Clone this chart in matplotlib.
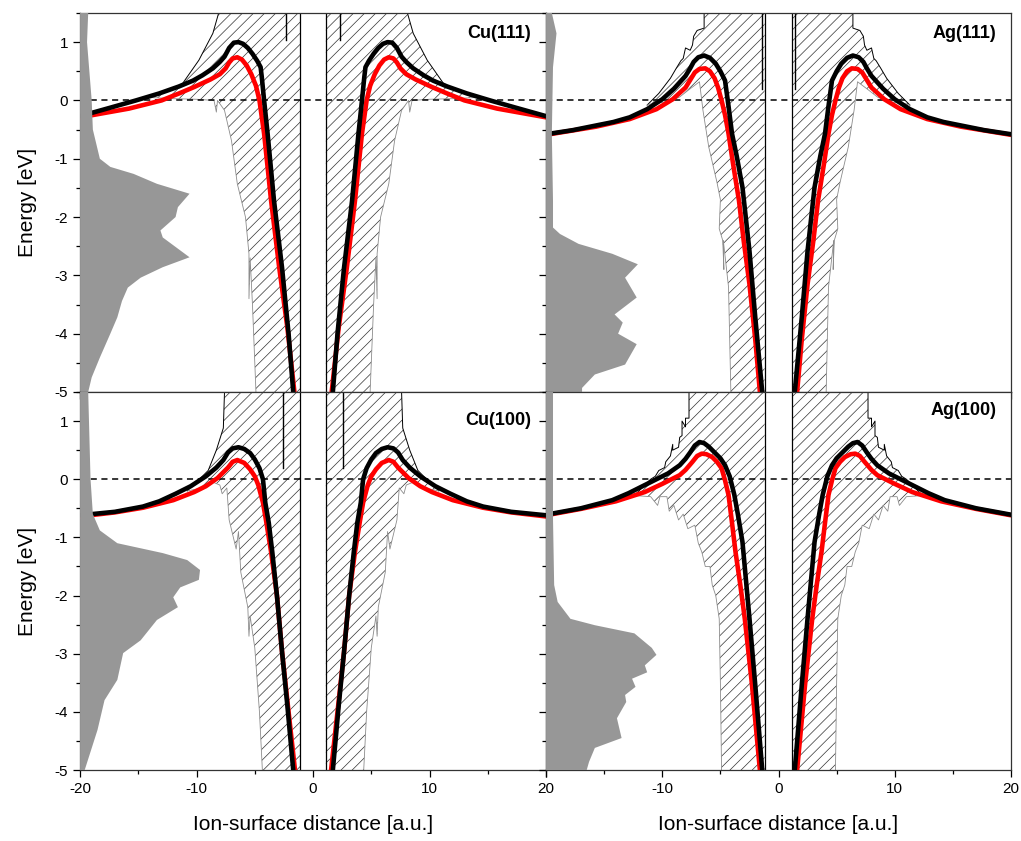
import numpy as np
import matplotlib
matplotlib.use("Agg")
import matplotlib.pyplot as plt
from matplotlib.ticker import MultipleLocator

plt.rcParams['font.family'] = ['Liberation Sans', 'DejaVu Sans']
plt.rcParams['axes.unicode_minus'] = False
plt.rcParams['hatch.linewidth'] = 0.5
plt.rcParams['axes.linewidth'] = 0.9

# ---- data: half curves given as (distance from surface, energy); mirrored to the left side ----
# Cu(111)
cu111_black_d = [1.7, 2.1, 2.66, 3.35, 3.9, 4.2, 4.4, 4.5, 4.8, 5.2, 5.6, 6.0, 6.4, 6.8, 7.2, 7.6, 8.0,
                 8.6, 9.5, 10.3, 11.5, 13.2, 15.2, 17.5, 20.0]
cu111_black_e = [-5.0, -4.0, -2.87, -1.72, -0.57, 0.0, 0.4, 0.57, 0.68, 0.8, 0.9, 0.97, 1.0, 0.99, 0.9, 0.75, 0.66,
                 0.55, 0.43, 0.34, 0.24, 0.12, 0.0, -0.13, -0.27]
cu111_red_d = [1.6, 2.2, 2.9, 3.6, 4.2, 4.6, 4.9, 5.3, 5.7, 6.1, 6.5, 6.9, 7.2, 7.5, 8.0, 8.8, 10.2, 11.5,
               13.0, 15.8, 20.0]
cu111_red_e = [-5.0, -3.9, -2.87, -1.72, -0.57, 0.0, 0.25, 0.45, 0.6, 0.7, 0.74, 0.72, 0.65, 0.55, 0.45, 0.36, 0.23, 0.12,
               0.0, -0.14, -0.29]
cu111_hatch_d = [8.1, 8.6, 9.8, 11.2, 12.4, 14.0, 12.0, 10.0, 8.5, 8.3, 8.2, 7.6, 7.0, 6.5, 5.8, 5.5, 5.5, 5.4,
                 5.2, 5.1, 4.9]
cu111_hatch_e = [1.5, 1.15, 0.69, 0.29, 0.17, 0.05, 0.03, 0.02, 0.0, -0.2, 0.0, -0.17, -0.69, -1.43, -2.0, -2.63, -3.4,
                 -2.7, -3.5, -4.0, -5.0]
cu111_hatch_top = 6  # first points are the upper (black) edge, the rest the lower (grey) edge
cu111_inner = 1.1
cu111_spike = [2.3, 1.5, 1.03]
cu111_dos_e = [1.5, 1.0, 0.0, -0.5, -1.0, -1.14, -1.26, -1.43, -1.6, -1.83, -2.0, -2.23, -2.35, -2.69,
               -2.86, -3.04, -3.21, -3.44, -3.72, -4.0, -4.41, -4.75, -5.0]
cu111_dos_w = [0.7, 0.6, 1.0, 1.1, 1.7, 2.6, 4.6, 6.6, 9.4, 8.4, 8.2, 6.9, 7.1, 9.4,
               7.1, 5.2, 4.1, 3.6, 3.2, 2.6, 1.7, 1.0, 0.7]

# Cu(100)
cu100_black_d = [1.7, 2.2, 2.66, 3.1, 3.5, 3.8, 4.1, 4.3, 4.6, 5.0, 5.4, 5.9, 6.4, 6.9, 7.3, 7.7, 8.3, 9.2,
                 10.5, 11.8, 13.2, 14.6, 17.0, 20.0]
cu100_black_e = [-5.0, -3.9, -2.97, -2.0, -1.25, -0.75, -0.4, 0.0, 0.19, 0.34, 0.45, 0.52, 0.55, 0.53, 0.46, 0.33, 0.2, 0.05,
                 -0.12, -0.25, -0.38, -0.47, -0.56, -0.62]
cu100_red_d = [1.55, 2.1, 2.66, 3.1, 3.6, 4.0, 4.3, 4.7, 5.0, 5.4, 5.9, 6.5, 6.9, 7.3, 7.8, 8.2, 9.2, 10.2,
               12.0, 14.6, 17.0, 20.0]
cu100_red_e = [-5.0, -4.0, -2.97, -2.0, -1.25, -0.75, -0.4, -0.1, 0.05, 0.17, 0.28, 0.33, 0.3, 0.2, 0.1, 0.02, -0.12, -0.22,
               -0.36, -0.49, -0.57, -0.64]
cu100_hatch_d = [7.6, 7.7, 8.3, 9.0, 10.0, 10.8, 9.5, 8.6, 8.0, 7.8, 7.4, 7.2, 6.6, 6.4, 6.2, 5.6, 5.5, 5.4, 5.0,
                 4.6, 4.35]
cu100_hatch_e = [1.5, 0.88, 0.5, 0.15, -0.05, -0.2, -0.15, -0.05, -0.1, -0.25, -0.15, -0.7, -1.2, -0.9, -1.6, -2.2, -2.7,
                 -2.35, -2.9, -4.0, -5.0]
cu100_hatch_top = 6
cu100_inner = 1.1
cu100_spike = [2.6, 1.5, 0.2]
cu100_dos_e = [1.5, 0.0, -0.6, -0.88, -1.1, -1.27, -1.39, -1.56, -1.73, -1.86, -2.03, -2.2, -2.42,
               -2.77, -2.99, -3.45, -3.8, -4.31, -5.0]
cu100_dos_w = [0.7, 0.9, 1.1, 1.7, 3.2, 7.1, 9.2, 10.3, 10.2, 8.6, 8.0, 8.4, 6.6,
               5.2, 3.7, 3.2, 2.1, 1.5, 0.4]

# Ag(111)
ag111_black_d = [1.4, 2.0, 2.5, 3.1, 3.6, 4.0, 4.3, 4.6, 5.0, 5.4, 5.9, 6.4, 6.9, 7.3, 7.6, 8.0, 9.0, 10.0,
                 11.3, 12.8, 14.2, 15.7, 17.7, 20.0]
ag111_black_e = [-5.0, -3.72, -2.58, -1.49, -0.95, -0.57, -0.1, 0.34, 0.5, 0.63, 0.73, 0.77, 0.74, 0.66, 0.55, 0.42, 0.2, 0.02,
                 -0.15, -0.29, -0.37, -0.43, -0.51, -0.58]
ag111_red_d = [1.6, 2.0, 2.5, 3.0, 3.4, 3.9, 4.3, 4.6, 4.9, 5.2, 5.5, 5.9, 6.3, 6.8, 7.2, 7.6, 8.0, 9.1,
               10.5, 12.8, 15.7, 20.0]
ag111_red_e = [-5.0, -4.1, -3.15, -2.4, -1.72, -1.1, -0.57, -0.25, 0.0, 0.22, 0.38, 0.5, 0.55, 0.54, 0.48, 0.35, 0.22, 0.02,
               -0.15, -0.32, -0.45, -0.59]
ag111_hatch_d = [6.4, 6.4, 7.0, 7.3, 7.4, 7.6, 8.0, 8.2, 8.4, 8.8, 9.3, 10.3, 11.3,
                 11.0, 9.4, 8.5, 7.6, 6.8, 6.5, 6.0, 5.3, 5.0, 5.1, 4.8, 4.7, 4.75, 4.3, 4.1]
ag111_hatch_e = [1.5, 1.24, 1.2, 1.1, 0.95, 0.86, 0.9, 0.72, 0.68, 0.55, 0.38, 0.12, -0.08,
                 -0.06, -0.02, 0.06, 0.2, 0.32, -0.17, -0.8, -1.4, -1.7, -2.2, -2.4, -2.9, -2.4, -3.2, -5.0]
ag111_hatch_top = 13
ag111_inner = 1.2
ag111_spike = [1.45, 1.5, 0.2]
ag111_dos_e = [1.5, 1.15, 0.57, -0.57, -1.72, -2.18, -2.29, -2.46, -2.63, -2.81, -3.04, -3.38, -3.67,
               -3.81, -4.0, -4.18, -4.53, -4.7, -4.93, -5.0]
ag111_dos_w = [0.5, 0.9, 0.6, 0.5, 0.6, 0.6, 1.2, 2.8, 5.7, 7.9, 6.8, 7.8, 5.9,
               6.6, 6.2, 7.8, 6.8, 4.2, 3.1, 3.1]

# Ag(100)
ag100_black_d = [1.4, 2.0, 2.5, 3.1, 3.5, 3.8, 4.2, 4.6, 5.0, 5.5, 6.0, 6.4, 6.8, 7.2, 7.6, 8.0, 8.5, 9.5,
                 10.5, 11.5, 12.9, 14.3, 17.0, 20.0]
ag100_black_e = [-5.0, -3.54, -2.39, -1.08, -0.6, -0.27, 0.05, 0.24, 0.36, 0.46, 0.56, 0.62, 0.64, 0.58, 0.46, 0.35, 0.24, 0.1,
                 0.0, -0.1, -0.24, -0.36, -0.5, -0.61]
ag100_red_d = [1.6, 2.3, 2.9, 3.3, 3.7, 4.0, 4.3, 4.6, 4.9, 5.3, 5.7, 6.2, 6.6, 7.0, 7.4, 8.0, 8.5, 10.0,
               11.5, 14.0, 17.0, 20.0]
ag100_red_e = [-5.0, -3.5, -2.4, -1.8, -1.25, -0.75, -0.27, -0.02, 0.19, 0.3, 0.38, 0.43, 0.44, 0.4, 0.3, 0.16, 0.07, -0.08,
               -0.22, -0.38, -0.51, -0.62]
ag100_hatch_d = [7.7, 7.7, 8.0, 8.0, 8.3, 8.3, 8.5, 8.6, 9.1, 9.1, 9.3, 9.7, 9.8, 10.3, 10.6, 11.0, 11.5, 12.4,
                 11.0, 10.4, 10.2, 9.6, 9.4, 9.0, 8.6, 8.2, 7.8, 7.2, 6.9, 6.6, 6.3, 5.9, 5.7, 5.4, 5.1,
                 5.0, 4.9]
ag100_hatch_e = [1.5, 1.05, 1.05, 0.9, 1.0, 0.75, 0.72, 0.55, 0.5, 0.6, 0.4, 0.3, 0.2, 0.15, 0.05, 0.0, -0.1, -0.28,
                 -0.3, -0.45, -0.3, -0.3, -0.55, -0.45, -0.7, -0.6, -0.85, -0.79, -1.1, -1.25, -1.5, -1.5, -1.82, -2.0, -2.4,
                 -3.5, -5.0]
ag100_hatch_top = 18
ag100_inner = 1.2
ag100_spike = None
ag100_dos_e = [1.5, 0.47, -0.68, -1.82, -2.11, -2.4, -2.51, -2.65, -2.9, -3.02, -3.2, -3.32, -3.43,
               -3.57, -3.71, -3.83, -4.11, -4.45, -4.62, -4.86, -5.0]
ag100_dos_w = [0.6, 0.6, 0.6, 0.7, 1.0, 2.1, 4.2, 7.6, 9.1, 9.5, 8.5, 8.7, 7.4,
               7.7, 6.8, 6.9, 6.1, 6.5, 4.2, 3.7, 3.5]

panels = [
    ("Cu(111)", cu111_black_d, cu111_black_e, cu111_red_d, cu111_red_e, cu111_hatch_d, cu111_hatch_e,
     cu111_hatch_top, cu111_inner, cu111_spike, cu111_dos_e, cu111_dos_w),
    ("Ag(111)", ag111_black_d, ag111_black_e, ag111_red_d, ag111_red_e, ag111_hatch_d, ag111_hatch_e,
     ag111_hatch_top, ag111_inner, ag111_spike, ag111_dos_e, ag111_dos_w),
    ("Cu(100)", cu100_black_d, cu100_black_e, cu100_red_d, cu100_red_e, cu100_hatch_d, cu100_hatch_e,
     cu100_hatch_top, cu100_inner, cu100_spike, cu100_dos_e, cu100_dos_w),
    ("Ag(100)", ag100_black_d, ag100_black_e, ag100_red_d, ag100_red_e, ag100_hatch_d, ag100_hatch_e,
     ag100_hatch_top, ag100_inner, ag100_spike, ag100_dos_e, ag100_dos_w),
]

# axes rectangles [left, bottom, width, height]
rects = [[0.0784, 0.5339, 0.4564, 0.4507], [0.5348, 0.5339, 0.4554, 0.4507],
         [0.0784, 0.0844, 0.4564, 0.4495], [0.5348, 0.0844, 0.4554, 0.4495]]
label_y = [0.947, 0.947, 0.925, 0.952]

fig = plt.figure(figsize=(10.21, 8.41), dpi=100)

for i, (name, bd, be, rd, re, hd, he, htop, inner, spike, dose, dosw) in enumerate(panels):
    ax = fig.add_axes(rects[i])
    bd, be, rd, re = map(np.asarray, (bd, be, rd, re))
    hd, he = np.asarray(hd), np.asarray(he)

    for s in (-1, 1):
        # hatched band region
        px = np.concatenate([[s * inner], s * hd, [s * inner]])
        py = np.concatenate([[1.5], he, [-5.0]])
        ax.fill(px, py, facecolor='none', edgecolor='0.2', hatch='///', linewidth=0, zorder=1)
        ax.plot(s * hd[:htop], he[:htop], color='k', lw=0.7, zorder=2)
        ax.plot(s * hd[htop - 1:], he[htop - 1:], color='0.55', lw=0.6, zorder=2)
        ax.plot([s * inner, s * inner], [-5, 1.5], color='k', lw=0.9, zorder=2)
        if spike is not None:
            ax.plot([s * spike[0]] * 2, spike[1:], color='k', lw=1.0, zorder=2)
        # curves
        ax.plot(s * rd, re, color='#ff0000', lw=3.3, solid_joinstyle='round', zorder=3)
        ax.plot(s * bd, be, color='k', lw=3.3, solid_joinstyle='round', zorder=4)

    ax.axhline(0, color='k', lw=1.1, ls=(0, (4, 3)), zorder=2.5)

    # density of states at the left edge
    ax.fill_betweenx(dose, -20, -20 + np.asarray(dosw), facecolor='#979797', edgecolor='none', zorder=5)

    ax.text(0.968, label_y[i], name, transform=ax.transAxes, ha='right', va='center',
            fontsize=13, fontweight='bold', zorder=6)

    ax.set_xlim(-20, 20)
    ax.set_ylim(-5, 1.5)
    ax.yaxis.set_major_locator(MultipleLocator(1))
    ax.yaxis.set_minor_locator(MultipleLocator(0.5))
    if i < 2:
        ax.xaxis.set_major_locator(MultipleLocator(4))
        ax.tick_params(axis='x', labelbottom=False)
    else:
        ax.set_xticks([-20, -10, 0, 10, 20])
        if i == 3:
            ax.set_xticklabels(['', '-10', '0', '10', '20'])
        ax.xaxis.set_minor_locator(MultipleLocator(5))
        ax.set_xlabel('Ion-surface distance [a.u.]', fontsize=15, labelpad=14)
    if i % 2 == 0:
        ax.set_ylabel('Energy [eV]', fontsize=15, labelpad=13)
    else:
        ax.tick_params(axis='y', labelleft=False)
    ax.tick_params(which='major', direction='out', length=5, width=0.9, labelsize=11)
    ax.tick_params(which='minor', direction='out', length=3, width=0.9)
    for sp in ax.spines.values():
        sp.set_color('0.2')

fig.savefig('out.png', dpi=100)
